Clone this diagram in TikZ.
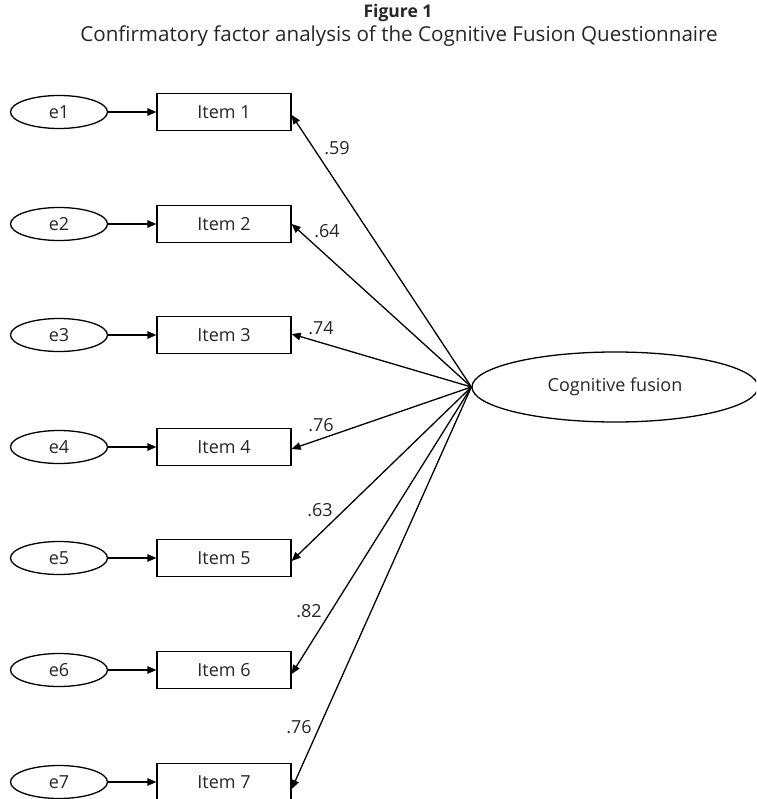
\documentclass[tikz,border=0pt]{standalone}
\usepackage{fontspec}
\setmainfont{Open Sans}
\usetikzlibrary{arrows.meta,shapes.geometric,calc}
\begin{document}
\begin{tikzpicture}[x=1pt,y=-1pt,
  every node/.style={text=black!85,font=\fontsize{18}{22}\selectfont},
  err/.style={draw=black,ellipse,minimum width=97pt,minimum height=33pt,inner sep=0pt,line width=1.3pt},
  item/.style={draw=black,rectangle,minimum width=134pt,minimum height=37pt,inner sep=0pt,line width=1.3pt},
  lat/.style={draw=black,ellipse,minimum width=286pt,minimum height=70pt,inner sep=0pt,line width=1.3pt},
  arr/.style={-{Triangle[length=9pt,width=7.5pt]},line width=1.3pt,draw=black},
  lbl/.style={inner sep=0pt}]
\useasboundingbox (0,0) rectangle (756,799);
\clip (0,0) rectangle (756,799);
\node[font=\fontsize{17.5}{21}\selectfont\bfseries] (t1) at (398,13) {Figure 1};
\node[font=\fontsize{20.6}{24}\selectfont] (t2) at (399,36) {Confirmatory factor analysis of the Cognitive Fusion Questionnaire};
\node[lat] (cf) at (615,387) {Cognitive fusion};
\foreach \i/\y in {1/112,2/224,3/335,4/447,5/558,6/670,7/782}{
  \node[err] (e\i) at (59,\y) {e\i};
  \node[item] (i\i) at (224,\y) {Item \i};
  \draw[arr] (e\i) -- (i\i);
}
\draw[arr] (cf.west) -- ($(i1.east)+(0,3)$);
\draw[arr] (cf.west) -- ($(i2.east)+(0,0)$);
\draw[arr] (cf.west) -- ($(i3.east)+(0,-1)$);
\draw[arr] (cf.west) -- ($(i4.east)+(0,2)$);
\draw[arr] (cf.west) -- ($(i5.east)+(0,3)$);
\draw[arr] (cf.west) -- ($(i6.east)+(0,4)$);
\draw[arr] (cf.west) -- ($(i7.east)+(0,7)$);
\node[lbl] (l1) at (337,148) {.59};
\node[lbl] (l2) at (327,231) {.64};
\node[lbl] (l3) at (321,328) {.74};
\node[lbl] (l4) at (321,425) {.76};
\node[lbl] (l5) at (320,510) {.63};
\node[lbl] (l6) at (309,611) {.82};
\node[lbl] (l7) at (299,727) {.76};
\end{tikzpicture}
\end{document}
